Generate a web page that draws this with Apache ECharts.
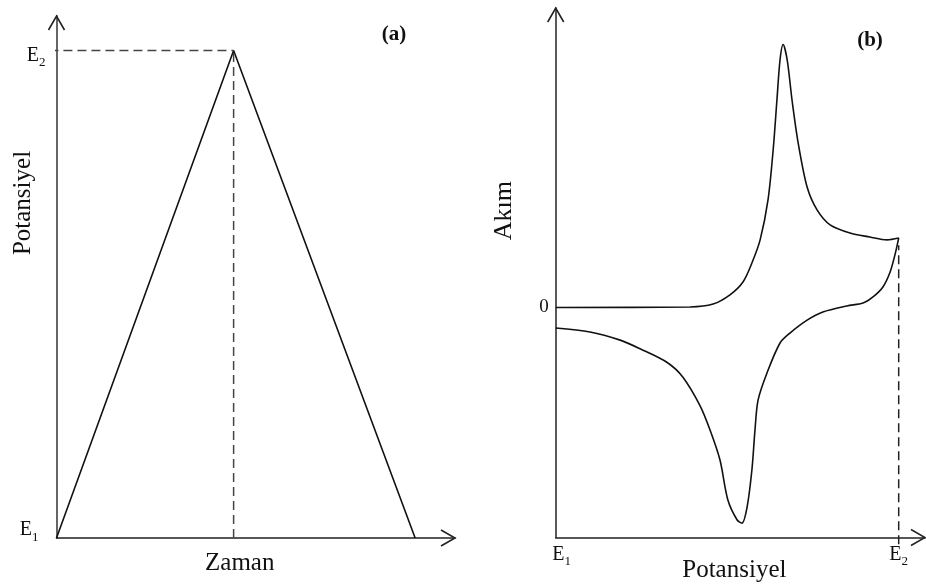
<!DOCTYPE html>
<html>
<head>
<meta charset="utf-8">
<script src="https://cdn.jsdelivr.net/npm/echarts@6/dist/echarts.min.js"></script>
<style>
html, body { margin: 0; padding: 0; background: #fff; }
#chart { width: 926px; height: 587px; }
</style>
</head>
<body>
<div id="chart"></div>
<script>
// ---- (a) triangular potential sweep: time vs. potential (E1 = 0, E2 = 1) ----
const sweepTime = [0, 10, 20.25];
const sweepPotential = [0, 1, 0];
const sweepTimeMax = 22.5;
const sweepPotentialMax = 1.0708;
const guideStartTime = -0.4;

// ---- (b) cyclic voltammogram: potential (E1 = 0, E2 = 1) vs. current (anodic peak = 1) ----
const forwardE = [0, 0.392, 0.459, 0.508, 0.546, 0.572, 0.596, 0.619, 0.634, 0.645, 0.654, 0.663,
  0.675, 0.689, 0.707, 0.733, 0.762, 0.800, 0.858, 0.916, 0.966, 1.0];
const forwardI = [0, 0.002, 0.013, 0.048, 0.097, 0.169, 0.257, 0.409, 0.599, 0.789, 0.941, 1.0,
  0.941, 0.789, 0.625, 0.458, 0.371, 0.314, 0.283, 0.268, 0.257, 0.264];
const reverseE = [0.989, 0.975, 0.954, 0.925, 0.896, 0.849, 0.779, 0.733, 0.683, 0.654, 0.616,
  0.590, 0.581, 0.572, 0.558, 0.543, 0.529, 0.502, 0.479, 0.450, 0.421, 0.371, 0.325, 0.246,
  0.188, 0.100, 0];
const reverseI = [0.200, 0.135, 0.078, 0.040, 0.017, 0.006, -0.017, -0.048, -0.097, -0.135, -0.249,
  -0.352, -0.466, -0.618, -0.759, -0.820, -0.808, -0.732, -0.580, -0.466, -0.374, -0.265, -0.209,
  -0.157, -0.124, -0.093, -0.078];
const cvEMax = 1.0767;
const cvIMin = -0.8745;
const cvIMax = 1.1388;
const switchGuideI = [-0.9, 0.237];

// tick labels
const potentialTickValues = [0, 1];
const potentialTickLabels = ['E1', 'E2'];
const currentTickValues = [0];
const currentTickLabels = ['0'];

const SERIF = '"Liberation Serif", "DejaVu Serif", serif';
const INK = '#111';
const DASH = [9, 5];

function pairs(xs, ys) { return xs.map((x, i) => [x, ys[i]]); }

// "E1" -> rich text with a lowered subscript digit
function subLabel(text, style) {
  return '{' + style + 'e|' + text.charAt(0) + '}{' + style + 's|' + text.slice(1) + '}';
}

const chart = echarts.init(document.getElementById('chart'), null, { renderer: 'canvas' });

const axisLineA = { onZero: false, lineStyle: { color: '#222', width: 1.5 } };

chart.setOption({
  animation: false,
  backgroundColor: '#fff',
  textStyle: { fontFamily: SERIF, color: INK },
  grid: [
    { left: 56.5, top: 16, width: 398.5, bottom: 49, containLabel: false, outerBoundsMode: 'none' },
    { left: 555.7, top: 8, right: 1, bottom: 49.5, containLabel: false, outerBoundsMode: 'none' }
  ],
  xAxis: [
    {
      gridIndex: 0, type: 'value', min: 0, max: sweepTimeMax,
      axisLine: axisLineA,
      axisTick: { show: false }, axisLabel: { show: false }, splitLine: { show: false },
      name: 'Zaman', nameLocation: 'middle', nameGap: 13, nameMoveOverlap: false,
      nameTextStyle: { fontFamily: SERIF, fontSize: 25, color: INK, padding: [0, 32, 0, 0] }
    },
    {
      gridIndex: 1, type: 'value', min: 0, max: cvEMax,
      axisLine: axisLineA,
      axisTick: { show: false }, splitLine: { show: false },
      axisLabel: {
        customValues: potentialTickValues,
        margin: 7,
        formatter: v => {
          const i = potentialTickValues.indexOf(v);
          return i < 0 ? '' : subLabel(potentialTickLabels[i], 'x' + (i + 1));
        },
        rich: {
          x1e: { fontFamily: SERIF, fontSize: 20, color: INK, verticalAlign: 'bottom', padding: [0, 0, 4, 12] },
          x1s: { fontFamily: SERIF, fontSize: 13, color: INK, verticalAlign: 'bottom' },
          x2e: { fontFamily: SERIF, fontSize: 20, color: INK, verticalAlign: 'bottom', padding: [0, 0, 4, 0] },
          x2s: { fontFamily: SERIF, fontSize: 13, color: INK, verticalAlign: 'bottom' }
        }
      },
      name: 'Potansiyel', nameLocation: 'middle', nameGap: 20, nameMoveOverlap: false,
      nameTextStyle: { fontFamily: SERIF, fontSize: 25, color: INK, padding: [0, 12, 0, 0] }
    }
  ],
  yAxis: [
    {
      gridIndex: 0, type: 'value', min: 0, max: sweepPotentialMax,
      axisLine: { onZero: false, lineStyle: { color: '#666', width: 2 } },
      axisTick: { show: false }, splitLine: { show: false },
      axisLabel: {
        customValues: potentialTickValues,
        margin: 11,
        formatter: v => {
          const i = potentialTickValues.indexOf(v);
          return i < 0 ? '' : subLabel(potentialTickLabels[i], 'y' + (i + 1));
        },
        rich: {
          y1e: { fontFamily: SERIF, fontSize: 20, color: INK, verticalAlign: 'bottom', padding: [0, 0, 16, 0] },
          y1s: { fontFamily: SERIF, fontSize: 13, color: INK, verticalAlign: 'bottom', padding: [0, 7, 12, 0] },
          y2e: { fontFamily: SERIF, fontSize: 20, color: INK, verticalAlign: 'bottom', padding: [14, 0, 4, 0] },
          y2s: { fontFamily: SERIF, fontSize: 13, color: INK, verticalAlign: 'bottom', padding: [14, 0, 0, 0] }
        }
      },
      name: 'Potansiyel', nameLocation: 'middle', nameGap: 21, nameRotate: 90, nameMoveOverlap: false,
      nameTextStyle: { fontFamily: SERIF, fontSize: 25, color: INK, padding: [0, 0, 0, 148] }
    },
    {
      gridIndex: 1, type: 'value', min: cvIMin, max: cvIMax,
      axisLine: { onZero: false, lineStyle: { color: '#222', width: 1.5 } },
      axisTick: { show: false }, splitLine: { show: false },
      axisLabel: {
        customValues: currentTickValues,
        margin: 7,
        fontFamily: SERIF, fontSize: 19, color: INK,
        formatter: v => {
          const i = currentTickValues.indexOf(v);
          return i < 0 ? '' : currentTickLabels[i];
        }
      },
      name: 'Akım', nameLocation: 'middle', nameGap: 39, nameRotate: 90, nameMoveOverlap: false,
      nameTextStyle: { fontFamily: SERIF, fontSize: 26, color: INK, padding: [0, 0, 0, 124] }
    }
  ],
  series: [
    {
      type: 'line', xAxisIndex: 0, yAxisIndex: 0, symbol: 'none',
      data: pairs(sweepTime, sweepPotential),
      lineStyle: { color: INK, width: 1.6 }
    },
    {
      type: 'line', xAxisIndex: 0, yAxisIndex: 0, symbol: 'none',
      data: [[sweepTime[1], 0], [sweepTime[1], sweepPotential[1]]],
      lineStyle: { color: '#444', width: 1.5, type: DASH }
    },
    {
      type: 'line', xAxisIndex: 0, yAxisIndex: 0, symbol: 'none', clip: false,
      data: [[guideStartTime, sweepPotential[1]], [sweepTime[1], sweepPotential[1]]],
      lineStyle: { color: '#444', width: 1.5, type: DASH }
    },
    {
      type: 'line', xAxisIndex: 1, yAxisIndex: 1, symbol: 'none', smooth: 0.3,
      data: pairs(forwardE, forwardI).concat(pairs(reverseE, reverseI)),
      lineStyle: { color: INK, width: 1.6 }
    },
    {
      type: 'line', xAxisIndex: 1, yAxisIndex: 1, symbol: 'none', clip: false,
      data: [[1, switchGuideI[0]], [1, switchGuideI[1]]],
      lineStyle: { color: '#222', width: 1.5, type: DASH }
    }
  ]
});

// Open chevron arrowheads at the far end of each axis, placed from the axis scales
function chevron(tip, dir) {
  const len = 14, half = 8;
  let pts;
  if (dir === 'up') pts = [[tip[0] - half, tip[1] + len], tip, [tip[0] + half, tip[1] + len]];
  else pts = [[tip[0] - len, tip[1] - half], tip, [tip[0] - len, tip[1] + half]];
  return {
    type: 'polyline', shape: { points: pts }, silent: true, z: 100,
    style: { stroke: '#222', lineWidth: 1.6, fill: null }
  };
}
const tipAY = chart.convertToPixel({ xAxisIndex: 0, yAxisIndex: 0 }, [0, sweepPotentialMax]);
const tipAX = chart.convertToPixel({ xAxisIndex: 0, yAxisIndex: 0 }, [sweepTimeMax, 0]);
const tipBY = chart.convertToPixel({ xAxisIndex: 1, yAxisIndex: 1 }, [0, cvIMax]);
const tipBX = chart.convertToPixel({ xAxisIndex: 1, yAxisIndex: 1 }, [cvEMax, cvIMin]);

chart.setOption({
  graphic: [
    chevron(tipAY, 'up'), chevron(tipAX, 'right'),
    chevron(tipBY, 'up'), chevron(tipBX, 'right'),
    {
      type: 'text', x: 394, y: 35, silent: true,
      style: { text: '(a)', fontFamily: SERIF, fontWeight: 'bold', fontSize: 21, fill: INK, align: 'center', verticalAlign: 'middle' }
    },
    {
      type: 'text', x: 870, y: 41, silent: true,
      style: { text: '(b)', fontFamily: SERIF, fontWeight: 'bold', fontSize: 21, fill: INK, align: 'center', verticalAlign: 'middle' }
    }
  ]
});
</script>
</body>
</html>
